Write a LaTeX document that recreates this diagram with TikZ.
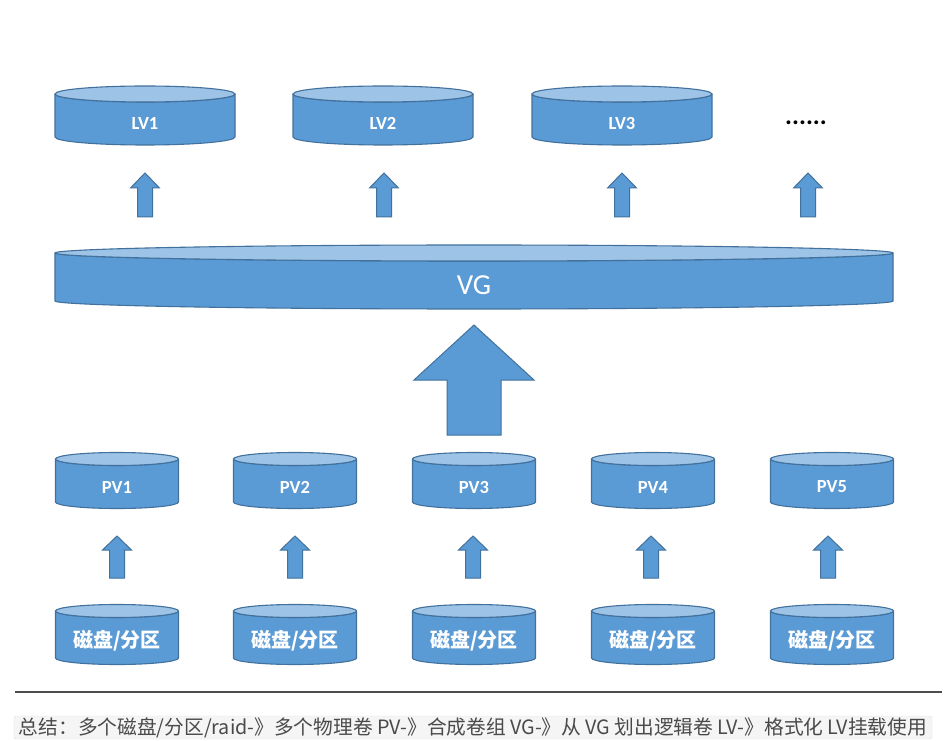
\documentclass[tikz,border=0pt]{standalone}
\usepackage{fontspec}
\usepackage{graphicx}
\setmainfont{Carlito}
\newfontfamily\cjk{Noto Sans CJK SC}
\definecolor{cylbody}{HTML}{5B9BD5}
\definecolor{cyltop}{HTML}{9DC3E6}
\definecolor{cylline}{HTML}{41719C}
\definecolor{notegray}{HTML}{4A4A4A}
\tikzset{
  cylline/.style={draw=cylline, line width=1.1pt, line join=round},
  blockarrow/.style={draw=cylline, fill=cylbody, line width=1pt, line join=miter},
  lvlabel/.style={text=white, font=\bfseries\fontsize{18.5}{20}\selectfont, inner sep=0pt},
  vglabel/.style={text=white, font=\fontsize{29}{32}\selectfont, inner sep=0pt},
  disklabel/.style={text=white, font=\cjk\bfseries\fontsize{20}{22}\selectfont, inner sep=0pt},
}
% #1 name, #2 cx, #3 Y top centre, #4 Y bottom centre, #5 half width, #6 ry, #7 label style, #8 text
\newcommand\dbcyl[8]{%
  \draw[cylline, fill=cylbody] ({#2-#5},#3) -- ({#2-#5},#4)
     arc[start angle=180,end angle=360,x radius=#5,y radius=#6]
     -- ({#2+#5},#3)
     arc[start angle=0,end angle=-180,x radius=#5,y radius=#6] -- cycle;
  \draw[cylline, fill=cyltop] (#2,#3) ellipse[x radius=#5, y radius=#6];
  \node[#7] (#1) at (#2,{(#3+#4)/2-#6}) {#8};
}
% #1 cx, #2 Y tip, #3 Y head base, #4 Y bottom, #5 head half width, #6 shaft half width
\newcommand\uparr[6]{%
  \draw[blockarrow] (#1,#2) -- ({#1+#5},#3) -- ({#1+#6},#3) -- ({#1+#6},#4)
    -- ({#1-#6},#4) -- ({#1-#6},#3) -- ({#1-#5},#3) -- cycle;
}
\begin{document}
\begin{tikzpicture}[x=1pt,y=1pt]
\useasboundingbox (0,0) rectangle (947,740);
\fill[white] (0,0) rectangle (947,740);
% LV row
\dbcyl{lv1}{145}{646}{603}{90}{8}{lvlabel}{LV1}
\dbcyl{lv2}{383}{646}{603}{90}{8}{lvlabel}{LV2}
\dbcyl{lv3}{622}{646}{603}{90}{8}{lvlabel}{LV3}
\node[font=\bfseries\fontsize{26}{28}\selectfont, inner sep=0pt, anchor=base] (dots) at (806,615) {......};
% small arrows LV
\foreach \c in {145,384,622,808}{\uparr{\c}{567}{552}{523}{14.5}{7.5}}
% VG
\dbcyl{vg}{474}{487}{439}{419}{8}{vglabel}{VG}
% big arrow
\uparr{474}{415}{360}{305}{60}{27}
% PV row
\dbcyl{pv1}{117}{281}{238}{61.5}{6.5}{lvlabel}{PV1}
\dbcyl{pv2}{295}{281}{238}{61.5}{6.5}{lvlabel}{PV2}
\dbcyl{pv3}{474}{281}{238}{61.5}{6.5}{lvlabel}{PV3}
\dbcyl{pv4}{653}{281}{238}{61.5}{6.5}{lvlabel}{PV4}
\dbcyl{pv5}{832}{281}{238}{61.5}{6.5}{lvlabel}{PV5}
% small arrows PV
\foreach \c in {117,295,473,651,828}{\uparr{\c}{204}{190}{162}{14.5}{7.5}}
% disks
\dbcyl{d1}{117}{129}{82}{61.5}{6.5}{disklabel}{磁盘/分区}
\dbcyl{d2}{295}{129}{82}{61.5}{6.5}{disklabel}{磁盘/分区}
\dbcyl{d3}{474}{129}{82}{61.5}{6.5}{disklabel}{磁盘/分区}
\dbcyl{d4}{653}{129}{82}{61.5}{6.5}{disklabel}{磁盘/分区}
\dbcyl{d5}{832}{129}{82}{61.5}{6.5}{disklabel}{磁盘/分区}
% separator
\draw[line width=2.5pt, color=black!70] (15,48) -- (942,48);
% note
\draw[fill=black!4, draw=black!12, rounded corners=2pt] (14,1) rectangle (932,24);
\node[inner sep=0pt, text=notegray] (note) at (473,12.5)
  {\resizebox{908pt}{!}{\cjk 总结：多个磁盘/分区/raid-》多个物理卷 PV-》合成卷组 VG-》从 VG 划出逻辑卷 LV-》格式化 LV挂载使用}};
\end{tikzpicture}
\end{document}
